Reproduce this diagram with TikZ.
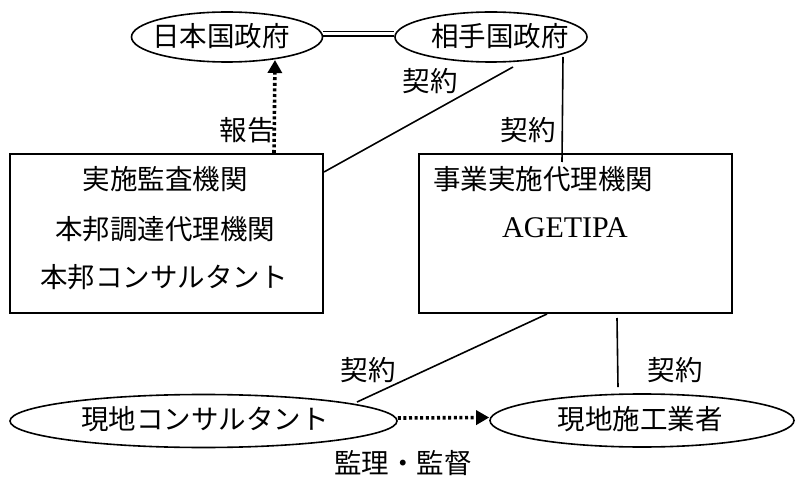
\documentclass[tikz,border=0pt]{standalone}
\usepackage{fontspec}
\newfontfamily\jp{Noto Sans CJK JP}
\newfontfamily\tm{Liberation Serif}
\usetikzlibrary{shapes.geometric,arrows.meta,calc}
\begin{document}
\begin{tikzpicture}[x=1pt,y=-1pt,
  every node/.style={font=\jp\fontsize{27.5}{33}\selectfont},
  oval/.style={draw,ellipse,line width=1.6pt,inner sep=0pt},
  boxnode/.style={draw,rectangle,line width=2pt,inner sep=0pt},
  txt/.style={inner sep=0pt,anchor=center},
  link/.style={line width=1.6pt},
  dotarrow/.style={line width=3.6pt,dash pattern=on 3pt off 2.6pt,-{Triangle[length=13pt,width=14pt]}}
]
\useasboundingbox (0,0) rectangle (795,478);
% ellipses top
\node[oval,minimum width=191pt,minimum height=50pt] (jgov) at (227,37) {};
\node[txt] (jgovt) at (221,36) {日本国政府};
\node[oval,minimum width=192pt,minimum height=50pt] (rgov) at (491,37) {};
\node[txt] (rgovt) at (500,36) {相手国政府};
% boxes
\node[boxnode,minimum width=313pt,minimum height=159pt] (lbox) at (166.5,233.5) {};
\node[txt] (l1) at (165,179) {実施監査機関};
\node[txt] (l2) at (165,229) {本邦調達代理機関};
\node[txt] (l3) at (164,277) {本邦コンサルタント};
\node[boxnode,minimum width=313pt,minimum height=159pt] (rbox) at (575.5,233.5) {};
\node[txt] (r1) at (543,179) {事業実施代理機関};
\node[txt,font=\tm\fontsize{30}{36}\selectfont] (r2) at (565,228) {AGETIPA};
% bottom ellipses
\node[oval,minimum width=387pt,minimum height=53pt] (lcons) at (203.5,421) {};
\node[txt] (lconst) at (205,419) {現地コンサルタント};
\node[oval,minimum width=304pt,minimum height=53pt] (lcontr) at (642,420.5) {};
\node[txt] (lcontrt) at (640,419) {現地施工業者};
% labels
\node[txt] (k0) at (247,130) {報告};
\node[txt] (k1) at (430,81) {契約};
\node[txt] (k2) at (528,130) {契約};
\node[txt] (k3) at (368,370) {契約};
\node[txt] (k4) at (675,370) {契約};
\node[txt] (k5) at (403,463) {監理・監督};
% connectors
\draw[double,double distance=3pt,line width=1.5pt] ($(jgov.east)+(0,-3)$) -- ($(rgov.west)+(0,-3)$);
\draw[dotarrow] ($(lbox.north west)+(265,0)$) -- ($(jgov.center)+(48,23)$);
\draw[link] ($(rgov.center)+(22,30)$) -- ($(lbox.north east)+(0,19)$);
\draw[link] ($(rgov.center)+(72,20)$) -- ($(rbox.north west)+(144,9)$);
\draw[link] ($(rbox.south west)+(129,0)$) -- ($(lcons.center)+(153.5,-19)$);
\draw[link] ($(rbox.south west)+(199,4)$) -- ($(lcontr.north)+(-24,-6)$);
\draw[dotarrow] ($(lcons.east)+(0,-3)$) -- ($(lcontr.west)+(0,-3)$);
\end{tikzpicture}
\end{document}
